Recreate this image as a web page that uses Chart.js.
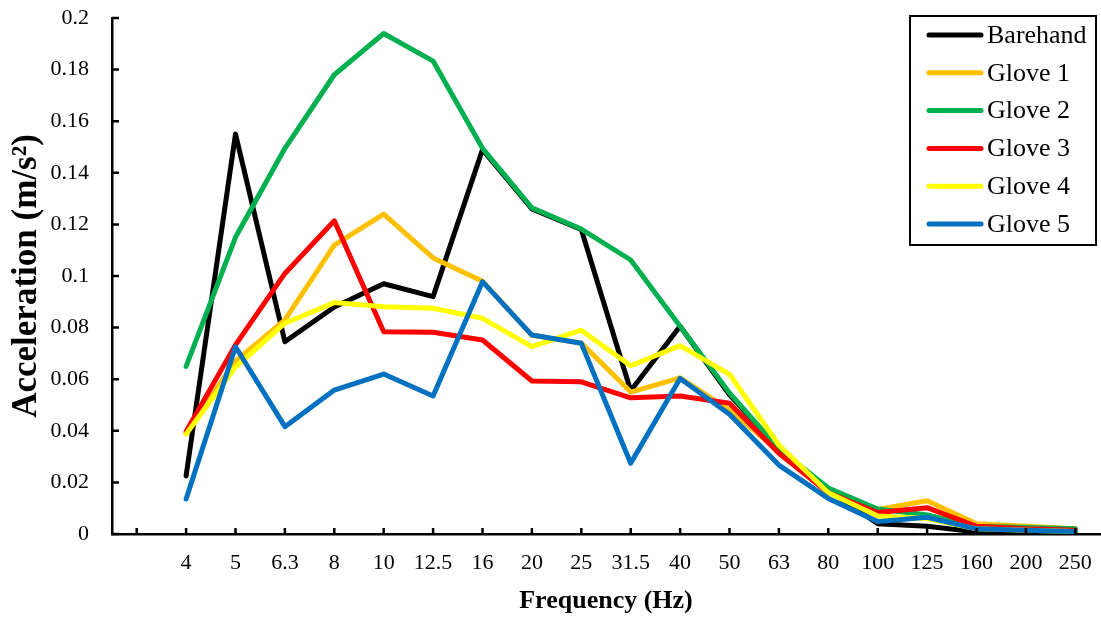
<!DOCTYPE html>
<html><head><meta charset="utf-8">
<script src="https://cdn.jsdelivr.net/npm/chart.js@4.4.1/dist/chart.umd.min.js"></script>
<style>html,body{margin:0;padding:0;background:#fff;overflow:hidden}#wrap{width:1101px;height:617px}</style>
</head><body><div id="wrap"><canvas id="c" width="1101" height="617"></canvas></div>
<script>
const categories = ['', '4', '5', '6.3', '8', '10', '12.5', '16', '20', '25', '31.5', '40', '50', '63', '80', '100', '125', '160', '200', '250'];
const seriesNames = ['Barehand', 'Glove 1', 'Glove 2', 'Glove 3', 'Glove 4', 'Glove 5'];
const seriesColors = ['#000000', '#FFC000', '#00B050', '#FF0000', '#FFFF00', '#0070C0'];
const barehand = [0.0225, 0.155, 0.0745, 0.088, 0.097, 0.092, 0.149, 0.126, 0.118, 0.0555, 0.0805, 0.054, 0.033, 0.017, 0.004, 0.003, 0.0008, 0.0006, 0.0005];
const glove1 = [0.039, 0.067, 0.083, 0.112, 0.124, 0.107, 0.098, 0.077, 0.074, 0.055, 0.0605, 0.048, 0.032, 0.016, 0.0095, 0.0129, 0.004, 0.003, 0.002];
const glove2 = [0.065, 0.115, 0.1495, 0.178, 0.194, 0.1833, 0.1495, 0.1264, 0.1182, 0.1062, 0.0805, 0.0547, 0.033, 0.0178, 0.0097, 0.0074, 0.003, 0.0025, 0.002];
const glove3 = [0.0397, 0.0733, 0.101, 0.1214, 0.0784, 0.0782, 0.0752, 0.0593, 0.059, 0.0528, 0.0535, 0.0507, 0.0313, 0.016, 0.0083, 0.0102, 0.003, 0.002, 0.0015];
const glove4 = [0.0388, 0.0647, 0.0817, 0.0897, 0.0881, 0.0875, 0.0836, 0.0726, 0.079, 0.0652, 0.073, 0.0619, 0.0345, 0.016, 0.007, 0.006, 0.002, 0.0015, 0.001];
const glove5 = [0.0136, 0.0726, 0.0416, 0.0558, 0.062, 0.0535, 0.0978, 0.0771, 0.0739, 0.0274, 0.0603, 0.0464, 0.0267, 0.0138, 0.0048, 0.0065, 0.002, 0.0015, 0.001];
const seriesValues = [barehand, glove1, glove2, glove3, glove4, glove5];
const xTitle = 'Frequency (Hz)';
const yTitle = 'Acceleration (m/s\u00B2)';
const yMin = 0, yMax = 0.2, yStep = 0.02;

const datasets = seriesNames.map((name, i) => ({
  label: name,
  data: [null].concat(seriesValues[i]),
  borderColor: seriesColors[i],
  backgroundColor: seriesColors[i],
  borderWidth: 5,
  pointRadius: 0,
  tension: 0,
  fill: false,
  borderCapStyle: 'round',
  borderJoinStyle: 'round',
  order: seriesNames.length - i
}));

const inwardTicks = {
  id: 'inwardTicks',
  afterDatasetsDraw(chart) {
    const {ctx, chartArea: a} = chart;
    const x = chart.scales.x, y = chart.scales.y;
    ctx.save();
    ctx.strokeStyle = '#000';
    ctx.lineWidth = 2.5;
    ctx.beginPath();
    y.ticks.forEach((t, i) => { const py = y.getPixelForTick(i); ctx.moveTo(a.left, py); ctx.lineTo(a.left + 7, py); });
    x.ticks.forEach((t, i) => { const px = x.getPixelForTick(i); ctx.moveTo(px, a.bottom); ctx.lineTo(px, a.bottom - 6); });
    ctx.stroke();
    ctx.restore();
  }
};

const boxLegend = {
  id: 'boxLegend',
  afterDraw(chart) {
    const ctx = chart.ctx;
    const x0 = 910, y0 = 16, w = 186, h = 229, rowH = 37.8;
    ctx.save();
    ctx.fillStyle = '#fff';
    ctx.fillRect(x0, y0, w, h);
    ctx.strokeStyle = '#000';
    ctx.lineWidth = 2;
    ctx.strokeRect(x0, y0, w, h);
    ctx.font = '26px "Liberation Serif"';
    ctx.textBaseline = 'middle';
    ctx.textAlign = 'left';
    chart.data.datasets.forEach((ds, i) => {
      const yy = y0 + 19 + i * rowH;
      ctx.beginPath();
      ctx.strokeStyle = ds.borderColor;
      ctx.lineWidth = 5;
      ctx.lineCap = 'round';
      ctx.moveTo(x0 + 19, yy);
      ctx.lineTo(x0 + 71, yy);
      ctx.stroke();
      ctx.fillStyle = '#000';
      ctx.fillText(ds.label, x0 + 77, yy + 1);
    });
    ctx.restore();
  }
};

new Chart(document.getElementById('c'), {
  type: 'line',
  data: {labels: categories, datasets},
  options: {
    responsive: false,
    animation: false,
    devicePixelRatio: 1,
    layout: {padding: {left: 0, right: 1, top: 18, bottom: 0}},
    plugins: {legend: {display: false}, tooltip: {enabled: false}},
    scales: {
      x: {
        type: 'category',
        offset: true,
        grid: {display: true, drawOnChartArea: false, drawTicks: false},
        border: {display: true, color: '#000', width: 2.5},
        ticks: {color: '#000', font: {family: 'Liberation Serif', size: 22}, padding: 16, maxRotation: 0, autoSkip: false},
        title: {display: true, text: xTitle, color: '#000', font: {family: 'Liberation Serif', size: 26, weight: 'bold'}, padding: {top: 0, bottom: 0}},
        afterFit: s => { s.height = 83; s.paddingLeft = 0; s.paddingRight = 0; }
      },
      y: {
        min: yMin, max: yMax,
        grid: {display: true, drawOnChartArea: false, drawTicks: false},
        border: {display: true, color: '#000', width: 2.5},
        ticks: {stepSize: yStep, color: '#000', font: {family: 'Liberation Serif', size: 22}, padding: 23,
          callback: v => String(parseFloat(Number(v).toFixed(2)))},
        title: {display: true, text: yTitle, color: '#000', font: {family: 'Liberation Serif', size: 35, weight: 'bold'}, padding: {top: 6, bottom: 0}},
        afterFit: s => { s.width = 112; s.paddingTop = 0; s.paddingBottom = 0; }
      }
    }
  },
  plugins: [inwardTicks, boxLegend]
});
</script>
</body></html>
